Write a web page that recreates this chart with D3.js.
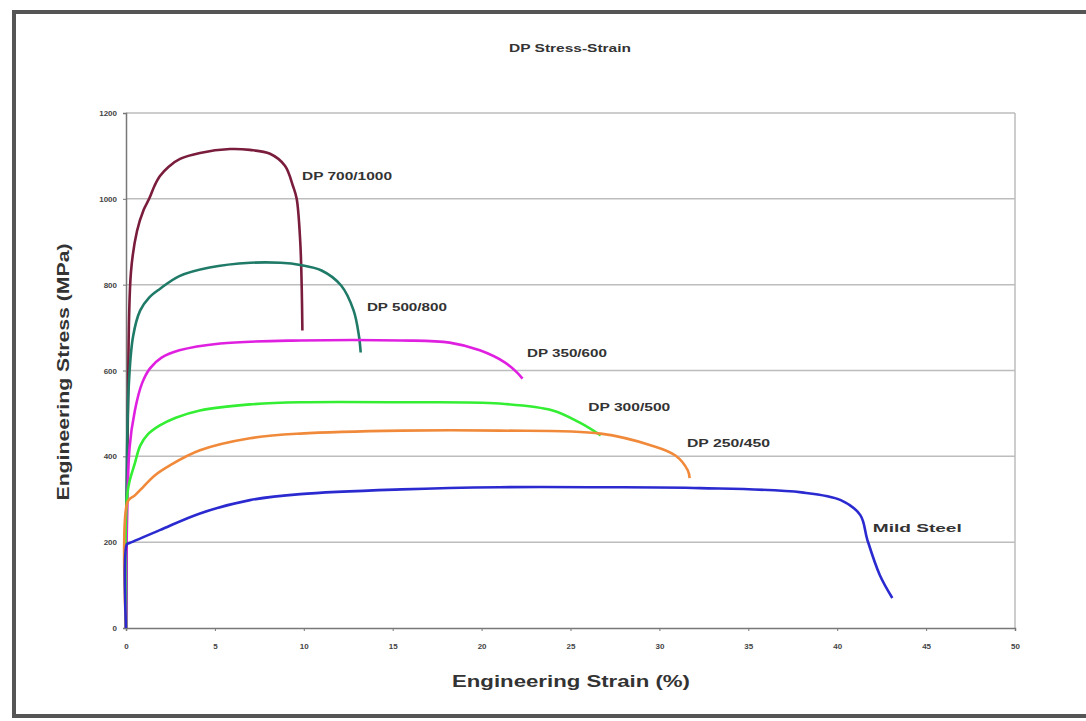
<!DOCTYPE html>
<html>
<head>
<meta charset="utf-8">
<script src="https://cdn.jsdelivr.net/npm/d3@7"></script>
<style>
  body { margin: 0; background: #fff; }
  text { font-family: "Liberation Sans", Arial, sans-serif; }
</style>
</head>
<body>
<svg id="chart" width="1086" height="721"></svg>
<script>
// Data: strain (%) and stress (MPa)
const seriesNames = ["DP 700/1000", "DP 500/800", "DP 350/600", "DP 300/500", "DP 250/450", "Mild Steel"];
const seriesColors = ["#7a1c3c", "#1f7a68", "#e020e0", "#33ee33", "#f08a3a", "#2a2ad0"];

const strain700 = [0, 0.1, 0.28, 0.62, 1.0, 1.3, 1.6, 1.91, 2.4, 3.04, 4.16, 5.85, 6.97, 8.1, 8.94, 9.39, 9.6, 9.8, 9.88, 9.92];
const stress700 = [0, 480, 830, 925, 975, 1000, 1030, 1053, 1075, 1093, 1107, 1116, 1114, 1105, 1077, 1030, 1000, 900, 800, 693];

const strain500 = [0, 0.15, 0.4, 0.8, 1.3, 1.9, 3.0, 4.7, 7.0, 8.7, 9.8, 11.0, 12.1, 12.8, 13.1, 13.2];
const stress500 = [0, 560, 680, 740, 770, 790, 820, 840, 851, 851, 846, 833, 798, 740, 681, 642];

const strain350 = [0, 0.2, 0.5, 0.9, 1.35, 2.0, 3.0, 5.3, 9.8, 15.5, 18.2, 19.9, 21.3, 22.0, 22.3];
const stress350 = [0, 420, 507, 570, 605, 630, 647, 663, 670, 670, 665, 647, 619, 595, 581];

const strain300 = [0, 0.1, 0.5, 0.8, 1.2, 1.9, 2.8, 4.16, 6.97, 9.8, 15.5, 21.0, 24.0, 25.5, 26.7];
const stress300 = [0, 320, 384, 425, 450, 472, 490, 507, 521, 526, 526, 523, 507, 479, 449];

const strain250 = [0, 0.1, 0.5, 1.0, 1.6, 2.47, 4.16, 6.97, 9.8, 15.5, 21.0, 26.7, 29.5, 30.9, 31.6, 31.7];
const stress250 = [0, 295, 309, 330, 355, 379, 414, 442, 453, 460, 460, 453, 426, 402, 367, 349];

const strainMild = [0, 0.05, 0.2, 1.9, 4.16, 6.97, 9.8, 15.5, 21.0, 26.7, 32.3, 38.0, 40.2, 41.3, 41.7, 42.4, 43.1];
const stressMild = [0, 195, 198, 228, 267, 298, 312, 323, 328, 328, 326, 316, 298, 263, 205, 123, 70];

const strainData = [strain700, strain500, strain350, strain300, strain250, strainMild];
const stressData = [stress700, stress500, stress350, stress300, stress250, stressMild];

// label anchors (baseline start) in data units
const labelStrain = [9.9, 13.55, 22.55, 26.0, 31.55, 42.0];
const labelStress = [1044, 738, 631, 506, 422, 224];

const xTicks = [0, 5, 10, 15, 20, 25, 30, 35, 40, 45, 50];
const yTicks = [0, 200, 400, 600, 800, 1000, 1200];

const svg = d3.select("#chart");
const margin = {top: 113, right: 71, bottom: 93, left: 126};
const width = 1086 - margin.left - margin.right,
      height = 721 - margin.top - margin.bottom;

// outer frame
svg.append("rect")
  .attr("x", 14).attr("y", 12)
  .attr("width", 1090).attr("height", 704)
  .attr("fill", "none")
  .attr("stroke", "#555")
  .attr("stroke-width", 4);

const g = svg.append("g").attr("transform", `translate(${margin.left},${margin.top})`);

const x = d3.scaleLinear().domain([0, 50]).range([0, width]);
const y = d3.scaleLinear().domain([0, 1200]).range([height, 0]);

// gridlines
g.append("g")
  .selectAll("line")
  .data(yTicks.filter(t => t > 0))
  .join("line")
  .attr("x1", 0).attr("x2", width)
  .attr("y1", d => y(d)).attr("y2", d => y(d))
  .attr("stroke", "#bdbdbd")
  .attr("stroke-width", 1.5);

// plot right border
g.append("line")
  .attr("x1", width).attr("x2", width)
  .attr("y1", 0).attr("y2", height)
  .attr("stroke", "#bdbdbd").attr("stroke-width", 1.5);

// axes
const xAxis = g.append("g")
  .attr("transform", `translate(0,${height})`)
  .call(d3.axisBottom(x).tickValues(xTicks).tickSize(3).tickPadding(12).tickFormat(d3.format("d")));
const yAxis = g.append("g")
  .call(d3.axisLeft(y).tickValues(yTicks).tickSize(3).tickPadding(6).tickFormat(d3.format("d")));

[xAxis, yAxis].forEach(a => {
  a.select(".domain").attr("stroke", "#777").attr("stroke-width", 1.5);
  a.selectAll(".tick line").attr("stroke", "#777");
  a.selectAll("text")
    .attr("font-size", "8px")
    .attr("font-weight", "bold")
    .attr("fill", "#444");
});

// lines
const line = d3.line()
  .x(d => x(d[0]))
  .y(d => y(d[1]))
  .curve(d3.curveCatmullRom.alpha(0.5));

seriesNames.forEach((name, i) => {
  const pts = strainData[i].map((s, j) => [s, stressData[i][j]]);
  g.append("path")
    .datum(pts)
    .attr("d", line)
    .attr("fill", "none")
    .attr("stroke", seriesColors[i])
    .attr("stroke-width", 2.6)
    .attr("stroke-linejoin", "round");
});

// series labels (glyphs in the original look horizontally stretched)
const labelWidths = [90, 80, 80, 82, 83, 89];
seriesNames.forEach((name, i) => {
  g.append("text")
    .attr("x", x(labelStrain[i]))
    .attr("y", y(labelStress[i]))
    .attr("font-size", i === 5 ? "11px" : "10px")
    .attr("font-weight", "bold")
    .attr("fill", "#333")
    .attr("textLength", labelWidths[i])
    .attr("lengthAdjust", "spacingAndGlyphs")
    .text(name);
});

// title
svg.append("text")
  .attr("x", 570).attr("y", 52)
  .attr("text-anchor", "middle")
  .attr("font-size", "11px")
  .attr("font-weight", "bold")
  .attr("fill", "#333")
  .attr("textLength", 122)
  .attr("lengthAdjust", "spacingAndGlyphs")
  .text("DP Stress-Strain");

// axis titles
svg.append("text")
  .attr("x", 571).attr("y", 687)
  .attr("text-anchor", "middle")
  .attr("font-size", "17px")
  .attr("font-weight", "bold")
  .attr("fill", "#333")
  .attr("textLength", 238)
  .attr("lengthAdjust", "spacingAndGlyphs")
  .text("Engineering Strain (%)");

svg.append("text")
  .attr("transform", "rotate(-90)")
  .attr("x", -372).attr("y", 69)
  .attr("text-anchor", "middle")
  .attr("font-size", "17px")
  .attr("font-weight", "bold")
  .attr("fill", "#333")
  .attr("textLength", 257)
  .attr("lengthAdjust", "spacingAndGlyphs")
  .text("Engineering Stress (MPa)");
</script>
</body>
</html>
